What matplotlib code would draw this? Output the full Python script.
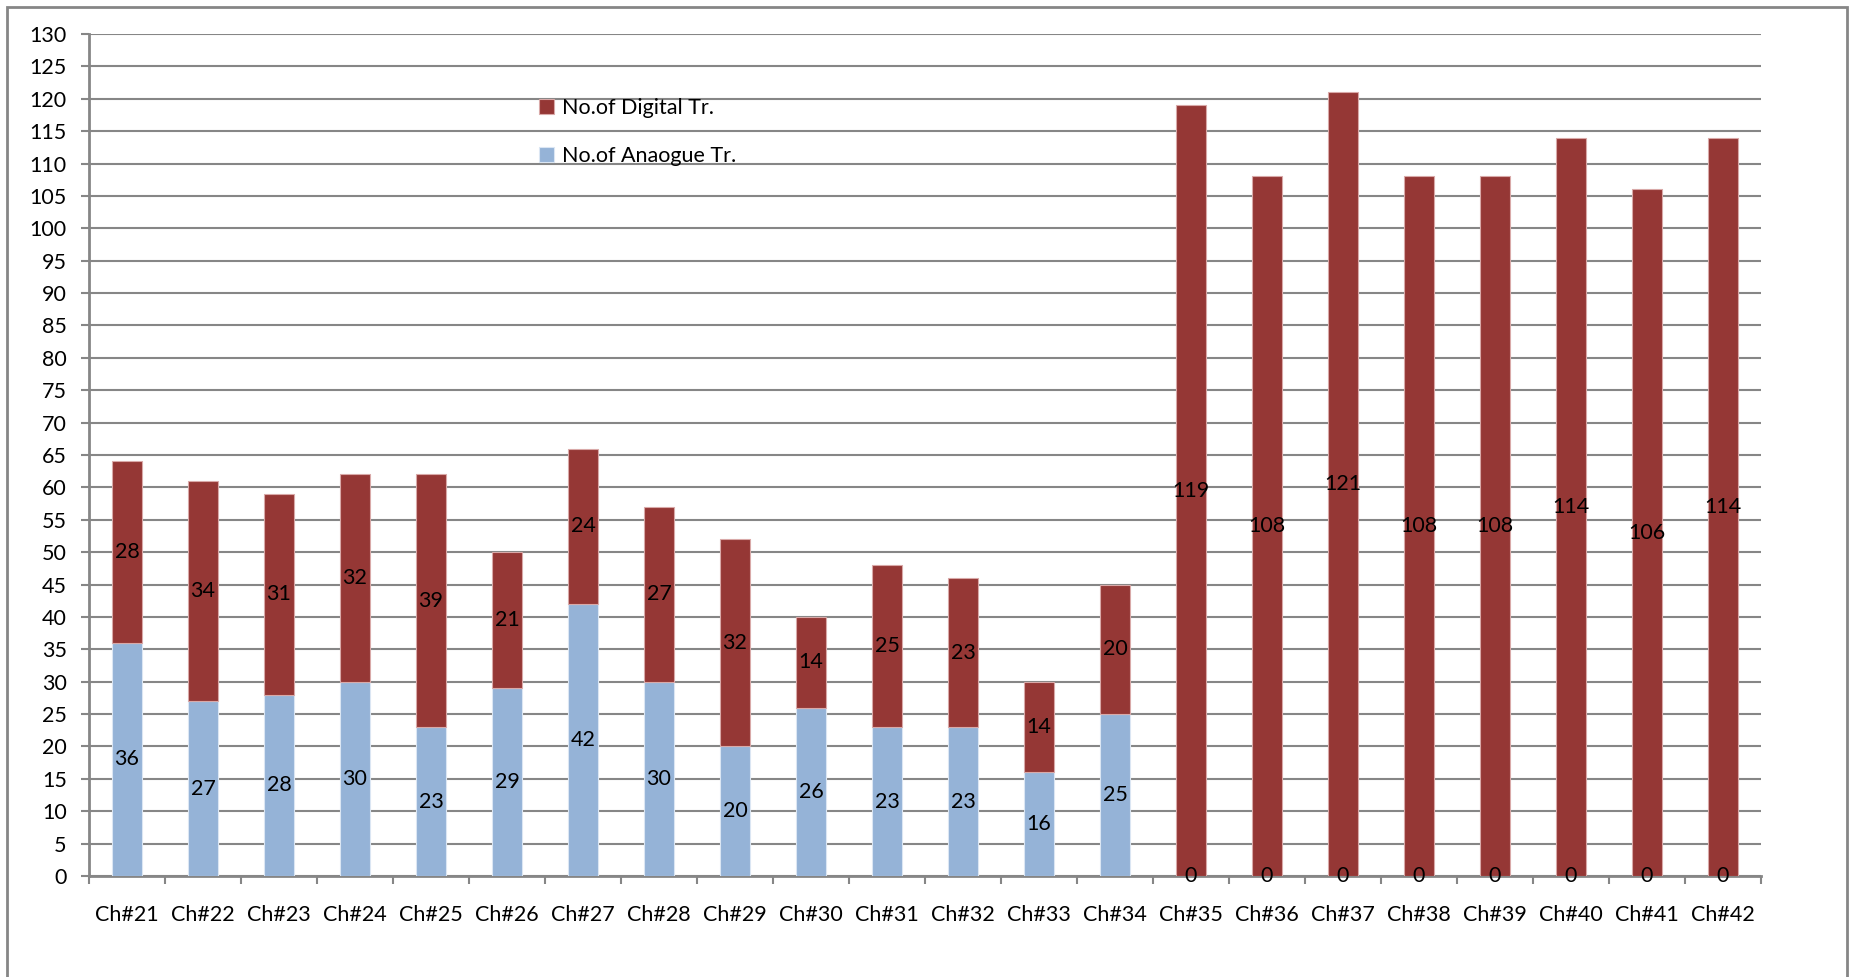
import numpy as np
import matplotlib
matplotlib.use("Agg")
import matplotlib.pyplot as plt
from matplotlib.patches import Rectangle

# channel names and transmitter counts per channel
channels = [f"Ch#{n}" for n in range(21, 43)]
analogue_tr = [36, 27, 28, 30, 23, 29, 42, 30, 20, 26, 23, 23, 16, 25,
               0, 0, 0, 0, 0, 0, 0, 0]
digital_tr = [28, 34, 31, 32, 39, 21, 24, 27, 32, 14, 25, 23, 14, 20,
              119, 108, 121, 108, 108, 114, 106, 114]
y_ticks = list(range(0, 131, 5))

analogue_color = "#95B3D7"
digital_color = "#953735"
grid_color = "#868686"
font_size = 15.5

plt.rcParams["font.family"] = ["Lato", "DejaVu Sans"]

fig = plt.figure(figsize=(18.5, 9.77), dpi=100)
ax = fig.add_axes([89 / 1850, 1 - 876 / 977, (1761 - 89) / 1850, (876 - 34) / 977])

x = np.arange(len(channels))
bar_w = 0.4

bars_a = ax.bar(x, analogue_tr, width=bar_w, color=analogue_color,
                edgecolor="#dbe6f3", linewidth=0.8, zorder=3,
                label="No.of Anaogue Tr.")
bars_d = ax.bar(x, digital_tr, width=bar_w, bottom=analogue_tr,
                color=digital_color, edgecolor="#d9a9a8", linewidth=0.8,
                zorder=3, label="No.of Digital Tr.")

# value labels in the middle of each segment
ax.bar_label(bars_a, labels=[str(v) for v in analogue_tr], label_type="center",
             fontsize=font_size, color="black", zorder=4)
ax.bar_label(bars_d, labels=[str(v) for v in digital_tr], label_type="center",
             fontsize=font_size, color="black", zorder=4)

ax.set_xlim(-0.5, len(channels) - 0.5)
ax.set_ylim(0, 130)
ax.set_yticks(y_ticks)
ax.yaxis.grid(True, color=grid_color, linewidth=1.5, zorder=0)
ax.set_axisbelow(True)

ax.set_xticks(x)
ax.set_xticklabels(channels)
ax.set_xticks(np.arange(-0.5, len(channels)), minor=True)
ax.tick_params(axis="x", which="major", length=0, pad=21, labelsize=font_size)
ax.tick_params(axis="x", which="minor", length=6, width=1.5, color=grid_color)
ax.tick_params(axis="y", length=6, width=1.5, color=grid_color, pad=10,
               labelsize=font_size)

for side in ["top", "right"]:
    ax.spines[side].set_visible(False)
for side in ["left", "bottom"]:
    ax.spines[side].set_color(grid_color)
    ax.spines[side].set_linewidth(2)

handles, labels = ax.get_legend_handles_labels()
ax.legend(handles[::-1], labels[::-1], loc="upper left",
          bbox_to_anchor=((530 - 89) / (1761 - 89), 1 - (89 - 34) / (876 - 34)),
          frameon=False, fontsize=font_size, handlelength=0.7, handleheight=0.7,
          handletextpad=0.4, labelspacing=1.3, borderaxespad=0)

# outer chart border
fig.patches.append(Rectangle((7 / 1850, -0.05), (1847 - 7) / 1850, 1.05 - 7 / 977,
                             transform=fig.transFigure, fill=False,
                             edgecolor=grid_color, linewidth=2))

fig.savefig("out.png", dpi=100)
